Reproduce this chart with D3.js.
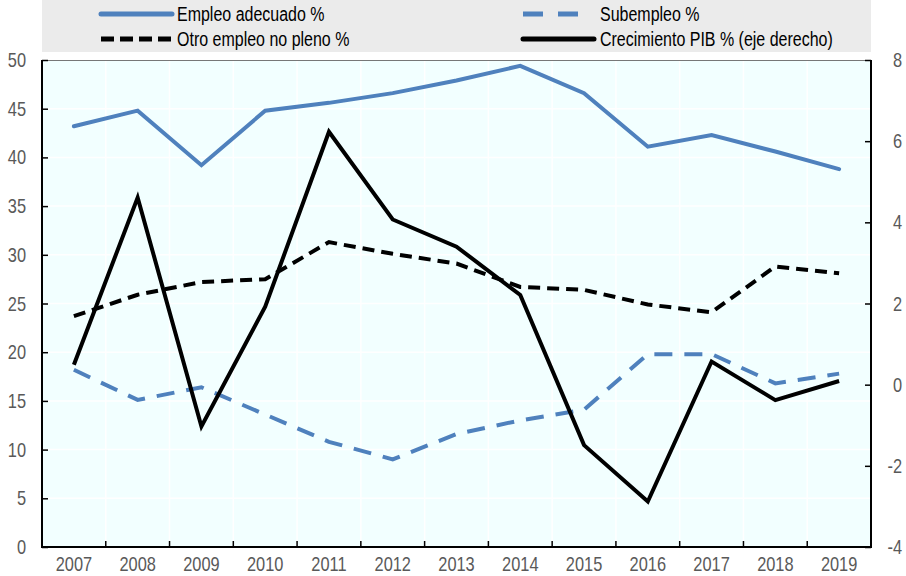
<!DOCTYPE html>
<html>
<head>
<meta charset="utf-8">
<script src="https://cdn.jsdelivr.net/npm/d3@7"></script>
<style>
  html, body { margin: 0; padding: 0; background: #ffffff; }
  svg text { font-family: "Liberation Sans Narrow", "Arial Narrow", "Liberation Sans", Arial, sans-serif; }
</style>
</head>
<body>
<svg id="chart" width="906" height="576"></svg>
<script>
// Years on the horizontal axis
const years = ["2007","2008","2009","2010","2011","2012","2013","2014","2015","2016","2017","2018","2019"];

// Labour market shares (left axis, %)
const empleoAdecuado = [43.2, 44.8, 39.2, 44.8, 45.6, 46.6, 47.9, 49.4, 46.6, 41.1, 42.3, 40.6, 38.8];
const subempleo      = [18.2, 15.1, 16.4, 13.6, 10.8, 9.0, 11.6, 13.0, 14.1, 19.8, 19.8, 16.8, 17.8];
const otroNoPleno    = [23.7, 25.9, 27.2, 27.5, 31.3, 30.1, 29.1, 26.7, 26.4, 24.9, 24.1, 28.8, 28.1];

// GDP growth (right axis, %)
const crecimientoPIB = [0.49, 4.61, -1.03, 1.92, 6.23, 4.07, 3.40, 2.21, -1.49, -2.88, 0.57, -0.38, 0.09];

// Axis ticks
const leftTicks  = [0, 5, 10, 15, 20, 25, 30, 35, 40, 45, 50];
const rightTicks = [-4, -2, 0, 2, 4, 6, 8];

const legendLabels = ["Empleo adecuado %", "Subempleo %", "Otro empleo no pleno %", "Crecimiento PIB % (eje derecho)"];

const blue = "#4F81BD";
const svg = d3.select("#chart");
const margin = { left: 42, right: 35, top: 60, bottom: 29 };
const W = 906, H = 576;
const x0 = margin.left, x1 = W - margin.right, y0 = margin.top, y1 = H - margin.bottom;

const x = d3.scaleBand().domain(years).range([x0, x1]);
const yL = d3.scaleLinear().domain([0, 50]).range([y1, y0]);
const yR = d3.scaleLinear().domain([-4, 8]).range([y1, y0]);

// Condensed text: regular sans squeezed horizontally
const SQUEEZE = 0.82;
function label(g, tx, ty, str, opts) {
  return g.append("text")
    .attr("transform", `translate(${tx},${ty}) scale(${SQUEEZE},1)`)
    .attr("dy", "0.35em")
    .attr("text-anchor", opts.anchor || "start")
    .attr("font-size", opts.size || 20)
    .attr("fill", opts.fill || "#000")
    .text(str);
}

// Legend panel
svg.append("rect").attr("x", x0).attr("y", 0).attr("width", x1 - x0).attr("height", 52).attr("fill", "#EBEBEB");

// Plot background
svg.append("rect").attr("x", x0).attr("y", y0).attr("width", x1 - x0).attr("height", y1 - y0).attr("fill", "#F2FFFF");

// White gridlines
svg.append("g").selectAll("line").data(leftTicks.slice(1, -1)).join("line")
  .attr("x1", x0).attr("x2", x1).attr("y1", d => yL(d)).attr("y2", d => yL(d))
  .attr("stroke", "#ffffff").attr("stroke-width", 1.5);
svg.append("g").selectAll("line").data(years.slice(1)).join("line")
  .attr("x1", d => x(d)).attr("x2", d => x(d)).attr("y1", y0).attr("y2", y1)
  .attr("stroke", "#ffffff").attr("stroke-width", 1.5);

// Top border
svg.append("line").attr("x1", x0).attr("x2", x1).attr("y1", y0 + 0.5).attr("y2", y0 + 0.5)
  .attr("stroke", "#777").attr("stroke-width", 1);

// Series
const cx = d => x(d) + x.bandwidth() / 2;
const lineL = d3.line().x((d, i) => cx(years[i])).y(d => yL(d));
const lineR = d3.line().x((d, i) => cx(years[i])).y(d => yR(d));

const series = [
  { data: empleoAdecuado, gen: lineL, color: blue, dash: null, cap: "round" },
  { data: subempleo, gen: lineL, color: blue, dash: "18,12", cap: "butt" },
  { data: otroNoPleno, gen: lineL, color: "#000", dash: "12,7", cap: "butt" },
  { data: crecimientoPIB, gen: lineR, color: "#000", dash: null, cap: "butt" }
];
series.forEach(s => {
  svg.append("path").attr("d", s.gen(s.data))
    .attr("fill", "none").attr("stroke", s.color).attr("stroke-width", 4)
    .attr("stroke-dasharray", s.dash).attr("stroke-linejoin", "miter").attr("stroke-linecap", s.cap);
});

// Axes (ticks point inward)
const gL = svg.append("g").attr("transform", `translate(${x0},0)`)
  .call(d3.axisRight(yL).tickValues(leftTicks).tickSize(6).tickFormat(""));
const gR = svg.append("g").attr("transform", `translate(${x1},0)`)
  .call(d3.axisLeft(yR).tickValues(rightTicks).tickSize(6).tickFormat(""));
[gL, gR].forEach(g => {
  g.select(".domain").remove();
  g.selectAll("line").attr("stroke", "#000").attr("stroke-width", 1.5);
});
// year separator ticks on bottom axis
svg.append("g").selectAll("line").data(years.slice(1)).join("line")
  .attr("x1", d => x(d)).attr("x2", d => x(d)).attr("y1", y1).attr("y2", y1 - 6)
  .attr("stroke", "#000").attr("stroke-width", 1.5);

// Axis lines
svg.append("path").attr("d", `M${x0},${y0}V${y1}H${x1}V${y0}`)
  .attr("fill", "none").attr("stroke", "#000").attr("stroke-width", 2);

// Tick labels
const tickColor = "#595959";
const gLl = svg.append("g");
leftTicks.forEach(d => label(gLl, 26, yL(d), d, { anchor: "end", fill: tickColor }));
const gRl = svg.append("g");
rightTicks.forEach(d => label(gRl, 902, yR(d), d, { anchor: "end", fill: tickColor }));
const gBl = svg.append("g");
years.forEach(d => label(gBl, cx(d), y1 + 17, d, { anchor: "middle", fill: tickColor }));

// Legend
const legendPos = [
  { sx: 101, len: 71, tx: 177, y: 14, dash: null, cap: "round" },
  { sx: 523, len: 55, tx: 600, y: 14, dash: "20,15", cap: "butt" },
  { sx: 101, len: 71, tx: 177, y: 39, dash: "13,6", cap: "butt" },
  { sx: 523, len: 71, tx: 600, y: 39, dash: null, cap: "round" }
];
const gLeg = svg.append("g");
series.forEach((s, i) => {
  const p = legendPos[i];
  gLeg.append("line").attr("x1", p.sx).attr("x2", p.sx + p.len).attr("y1", p.y).attr("y2", p.y)
    .attr("stroke", s.color).attr("stroke-width", 5)
    .attr("stroke-dasharray", p.dash).attr("stroke-linecap", p.cap);
  label(gLeg, p.tx, p.y, legendLabels[i], { size: 19.5 });
});
</script>
</body>
</html>
